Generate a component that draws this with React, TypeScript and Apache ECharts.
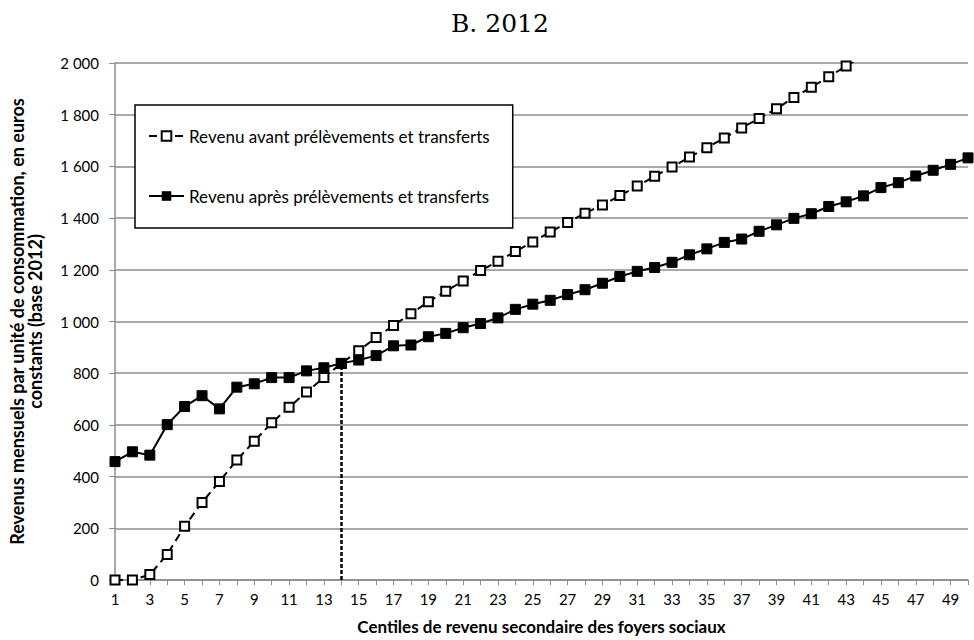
import React, { useEffect, useRef } from "react";
import * as echarts from "echarts";

const centiles: string[] = Array.from({ length: 50 }, (_, i) => String(i + 1));

const revenuAvant: number[] = [
  0, 0, 21, 99, 208, 300, 381, 464, 537, 608,
  668, 727, 783, 838, 887, 938, 985, 1030, 1076, 1117,
  1157, 1197, 1233, 1271, 1308, 1346, 1383, 1419, 1451, 1487,
  1524, 1562, 1598, 1636, 1672, 1710, 1749, 1785, 1823, 1867,
  1906, 1947, 1988, 2030,
];

const revenuApres: number[] = [
  458, 496, 483, 601, 671, 713, 662, 746, 759, 783,
  783, 809, 821, 838, 851, 868, 906, 909, 941, 954,
  976, 992, 1014, 1047, 1067, 1082, 1104, 1123, 1148, 1174,
  1194, 1209, 1229, 1258, 1281, 1306, 1319, 1349, 1374, 1399,
  1417, 1445, 1463, 1486, 1518, 1537, 1563, 1585, 1608, 1633,
];

const seuilCentile = "14";
const seuilValeur = 838;

const serieNames = [
  "Revenu avant prélèvements et transferts",
  "Revenu après prélèvements et transferts",
];

const FONT = "Lato";
const GRAY = "#8c8c8c";

function fmt(v: number): string {
  if (v >= 1000) {
    const th = Math.floor(v / 1000);
    const rest = String(v % 1000).padStart(3, "0");
    return `${th} ${rest}`;
  }
  return String(v);
}

export default function App() {
  const ref = useRef<HTMLDivElement>(null);
  useEffect(() => {
    if (!ref.current) return;
    const chart = echarts.init(ref.current, undefined, { renderer: "svg" });
    chart.setOption({
      animation: false,
      backgroundColor: "#fff",
      title: {
        text: "B. 2012",
        left: 446,
        top: 6,
        textStyle: {
          fontFamily: "DejaVu Serif",
          fontWeight: "normal",
          fontSize: 25,
          color: "#000",
        },
      },
      grid: { left: 115, right: 6, top: 63, bottom: 57, containLabel: false },
      legend: {
        data: serieNames,
        orient: "vertical",
        left: 135,
        top: 105,
        padding: [21, 23, 22, 13],
        itemGap: 40,
        itemWidth: 35,
        itemHeight: 12,
        borderColor: "#000",
        borderWidth: 1.5,
        borderRadius: 0,
        backgroundColor: "#fff",
        textStyle: { fontFamily: FONT, fontSize: 17, lineHeight: 20, color: "#000" },
      },
      xAxis: {
        type: "category",
        data: centiles,
        boundaryGap: false,
        name: "Centiles de revenu secondaire des foyers sociaux",
        nameLocation: "middle",
        nameGap: 38,
        nameTextStyle: { fontFamily: FONT, fontWeight: "bold", fontSize: 17, color: "#000" },
        axisLine: { lineStyle: { color: GRAY, width: 1.5 } },
        axisTick: { show: true, interval: 0, length: 5, lineStyle: { color: GRAY } },
        axisLabel: { interval: 1, fontFamily: FONT, fontSize: 15, color: "#000", margin: 11 },
        splitLine: { show: false },
      },
      yAxis: {
        type: "value",
        min: 0,
        max: 2000,
        interval: 200,
        name: "Revenus mensuels par unité de consommation, en euros\nconstants (base 2012)",
        nameLocation: "middle",
        nameGap: 71,
        nameRotate: 90,
        nameTextStyle: { fontFamily: FONT, fontWeight: "bold", fontSize: 18, color: "#000", lineHeight: 18 },
        axisLine: { show: true, lineStyle: { color: GRAY, width: 1.5 } },
        axisTick: { show: true, length: 6, lineStyle: { color: GRAY } },
        axisLabel: { fontFamily: FONT, fontSize: 15, color: "#000", margin: 16, formatter: (v: number) => fmt(v) },
        splitLine: { show: true, lineStyle: { color: GRAY, width: 1.5 } },
      },
      series: [
        {
          name: serieNames[0],
          type: "line",
          data: revenuAvant,
          symbol: "rect",
          symbolSize: 9,
          clip: true,
          lineStyle: { color: "#000", width: 2, type: [8, 5] },
          itemStyle: { color: "#fff", borderColor: "#000", borderWidth: 2 },
          z: 3,
        },
        {
          name: serieNames[1],
          type: "line",
          data: revenuApres,
          symbol: "rect",
          symbolSize: 10,
          clip: true,
          lineStyle: { color: "#000", width: 2 },
          itemStyle: { color: "#000", borderColor: "#000" },
          z: 4,
          markLine: {
            silent: true,
            symbol: "none",
            label: { show: false },
            lineStyle: { color: "#000", width: 2.5, type: [4, 2] },
            data: [
              [
                { coord: [seuilCentile, 0] },
                { coord: [seuilCentile, seuilValeur] },
              ],
            ],
          },
        },
      ],
    });
    return () => chart.dispose();
  }, []);
  return <div ref={ref} style={{ width: 974, height: 640, position: "absolute", left: 0, top: 0 }} />;
}
